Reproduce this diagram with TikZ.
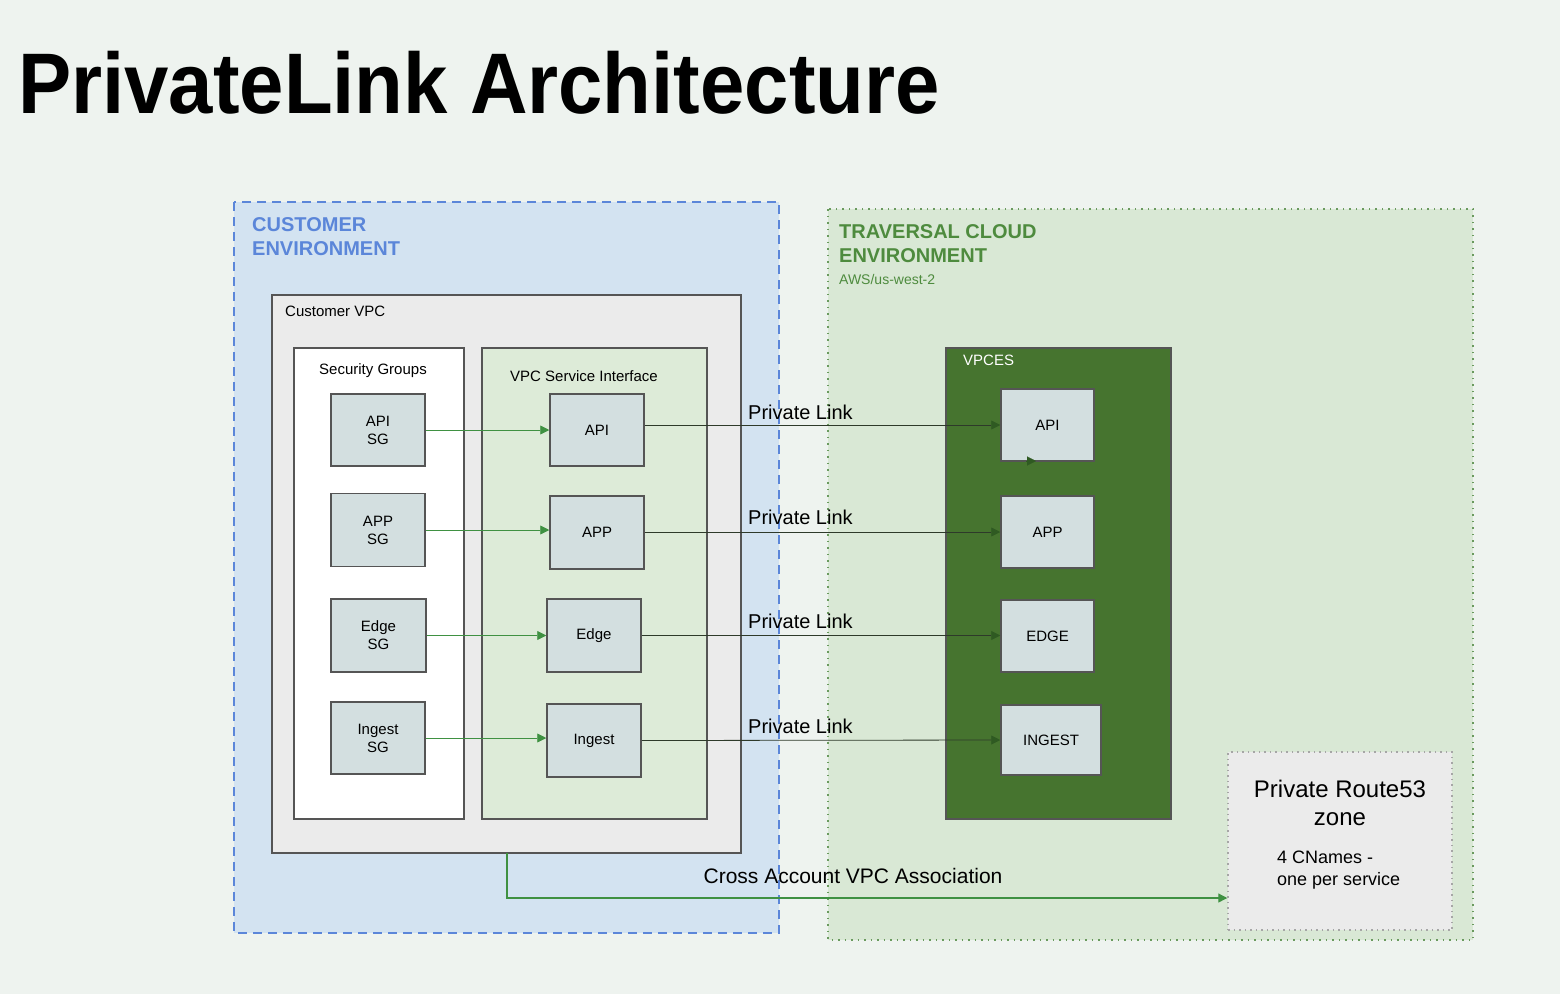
\documentclass[tikz,border=0pt]{standalone}
\usepackage{fontspec}
\setmainfont{Liberation Sans}
\usetikzlibrary{arrows.meta}
\definecolor{bg}{HTML}{EEF3EF}
\definecolor{custfill}{HTML}{D3E3F1}
\definecolor{custline}{HTML}{5B86D9}
\definecolor{travfill}{HTML}{D9E8D5}
\definecolor{travline}{HTML}{6A9A5E}
\definecolor{travtext}{HTML}{4E8B3E}
\definecolor{vpcfill}{HTML}{EBEBEB}
\definecolor{sifill}{HTML}{DDEBD8}
\definecolor{boxfill}{HTML}{D3DFE0}
\definecolor{vpces}{HTML}{46742F}
\definecolor{edge}{HTML}{555555}
\definecolor{garrow}{HTML}{3F9142}
\definecolor{darrow}{HTML}{2F5A22}
\definecolor{dline}{HTML}{2E3A2A}
\begin{document}
\begin{tikzpicture}[x=1pt,y=-1pt,
  fs/.style={font=\fontsize{#1}{1.2\dimexpr#1pt\relax}\selectfont},
  svc/.style={draw=edge,line width=1.5pt,fill=boxfill,align=center,fs=15,inner sep=0},
  ga/.style={draw=garrow,line width=0.8pt,-{Triangle[length=9pt,width=9pt]}},
  da/.style={draw=dline,line width=0.8pt,-{Triangle[length=9pt,width=9pt,fill=darrow,color=darrow]}},
  pl/.style={fs=20,anchor=base west,inner sep=0}]
\useasboundingbox (0,0) rectangle (1560,994);
\fill[bg] (0,0) rectangle (1560,994);
\node[anchor=base west,inner sep=0,xscale=0.927,transform shape,font=\fontsize{86}{90}\bfseries\selectfont] (title) at (18,113) {PrivateLink Architecture};
% environments
\draw[custline,fill=custfill,line width=2.5pt,dash pattern=on 9pt off 6pt] (234,202) rectangle (779,933);
\node[anchor=north west,align=left,text=custline,font=\fontsize{20}{24}\bfseries\selectfont,inner sep=0] (custlbl) at (252,217) {CUSTOMER\\ENVIRONMENT};
\draw[travline,fill=travfill,line width=2pt,dash pattern=on 1.5pt off 5pt] (828,209) rectangle (1473,940);
\node[anchor=north west,align=left,text=travtext,font=\fontsize{20}{24}\bfseries\selectfont,inner sep=0] (travlbl) at (839,224) {TRAVERSAL CLOUD\\ENVIRONMENT};
\node[anchor=north west,text=travtext,fs=14,inner sep=0] (region) at (839,274) {AWS/us-west-2};
% customer vpc
\draw[edge,fill=vpcfill,line width=2pt] (272,295) rectangle (741,853);
\coordinate (vpcbot) at (507,853);
\node[anchor=north west,fs=15,inner sep=0] (vpclbl) at (285,306) {Customer VPC};
\draw[edge,fill=white,line width=2pt] (294,348) rectangle (464,819);
\node[fs=15,inner sep=0] (sglbl) at (373,371) {Security Groups};
\draw[edge,fill=sifill,line width=2pt] (482,348) rectangle (707,819);
\node[fs=15,inner sep=0] (silbl) at (584,376) {VPC Service Interface};
% SG boxes
\node[svc,minimum width=94pt,minimum height=72pt] (sg1) at (378,430) {API\\SG};
\node[svc,minimum width=94pt,minimum height=73pt] (sg2) at (378,530) {APP\\SG};
\node[svc,minimum width=95pt,minimum height=73pt] (sg3) at (378.5,635.5) {Edge\\SG};
\node[svc,minimum width=94pt,minimum height=72pt] (sg4) at (378,738) {Ingest\\SG};
% interface boxes
\node[svc,minimum width=94pt,minimum height=72pt] (if1) at (597,430) {API};
\node[svc,minimum width=94pt,minimum height=73pt] (if2) at (597,532.5) {APP};
\node[svc,minimum width=94pt,minimum height=73pt] (if3) at (594,635.5) {Edge};
\node[svc,minimum width=94pt,minimum height=73pt] (if4) at (594,740.5) {Ingest};
% VPCES
\draw[edge,fill=vpces,line width=1.5pt] (946,348) rectangle (1171,819);
\node[anchor=north west,text=white,fs=15,inner sep=0] (vpceslbl) at (963,355) {VPCES};
\node[svc,minimum width=93pt,minimum height=72pt] (ve1) at (1047.5,425) {API};
\node[svc,minimum width=93pt,minimum height=72pt] (ve2) at (1047.5,532) {APP};
\node[svc,minimum width=93pt,minimum height=72pt] (ve3) at (1047.5,636) {EDGE};
\node[svc,minimum width=100pt,minimum height=70pt] (ve4) at (1051,740) {INGEST};
% SG -> interface
\draw[ga] (sg1.east) -- (if1.west);
\draw[ga] (sg2.east) -- (sg2.east -| if2.west);
\draw[ga] (sg3.east) -- (if3.west);
\draw[ga] (sg4.east) -- (sg4.east -| if4.west);
% interface -> VPCE
\draw[da] (if1.east |- ve1.west) -- (ve1.west);
\draw[da] (if2.east |- ve2.west) -- (ve2.west);
\draw[da] (if3.east) -- (if3.east -| ve3.west);
\draw[da] (if4.east) -- (ve4.west);
\node[pl] (pl1) at (748,419) {Private Link};
\node[pl] (pl2) at (748,524) {Private Link};
\node[pl] (pl3) at (748,628) {Private Link};
\node[pl] (pl4) at (748,733) {Private Link};
% stray arrowhead
\coordinate (sa) at (1026,461);
\coordinate (sb) at (1036,461);
\draw[darrow,-{Triangle[length=9pt,width=9pt]},line width=0.1pt] (sa) -- (sb);
% Route53
\node[draw=gray!70,fill=vpcfill,line width=1.5pt,dash pattern=on 1.5pt off 4pt,minimum width=224pt,minimum height=178pt,inner sep=0] (r53) at (1340,841) {};
\node[fs=24,align=center,inner sep=0] (r53t) at (1340,803) {Private Route53\\zone};
\node[fs=18,align=left,anchor=north west,inner sep=0] (r53s) at (1277,851) {4 CNames -\\one per service};
% cross account
\draw[ga,line width=1.3pt] (vpcbot) -- (507,898) -- (r53.west |- 0,898);
\node[fs=21,inner sep=0] (cal) at (853,876) {Cross Account VPC Association};
\end{tikzpicture}
\end{document}
